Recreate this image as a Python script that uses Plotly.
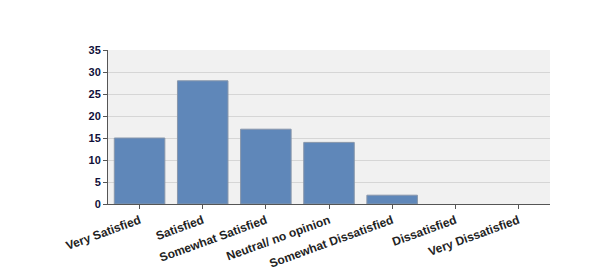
import plotly.graph_objects as go

categories = ["Very Satisfied", "Satisfied", "Somewhat Satisfied", "Neutral/ no opinion",
              "Somewhat Dissatisfied", "Dissatisfied", "Very Dissatisfied"]
counts = [15, 28, 17, 14, 2, 0, 0]
y_ticks = [0, 5, 10, 15, 20, 25, 30, 35]

fig = go.Figure()
fig.add_trace(go.Bar(
    x=categories, y=counts,
    marker=dict(color="#5f87b9",
                line=dict(color="#8796ab", width=[1 if v > 0 else 0 for v in counts])),
    hoverinfo="x+y",
))

font_main = "Liberation Sans, Arial, sans-serif"
fig.update_layout(
    width=600, height=270,
    margin=dict(l=108, r=50, t=50, b=66),
    paper_bgcolor="white",
    plot_bgcolor="#f1f1f1",
    bargap=0.2,
    showlegend=False,
    font=dict(family=font_main, size=11, color="#222"),
)
fig.update_xaxes(
    type="category",
    automargin=False,
    tickangle=-20,
    tickfont=dict(family=font_main, size=12, color="#222", weight="bold"),
    showline=True, linecolor="#555", linewidth=1,
    ticks="outside", ticklen=4, tickcolor="#555",
    showgrid=False,
)
fig.update_yaxes(
    automargin=False,
    range=[0, 35],
    tickvals=y_ticks,
    tickfont=dict(family=font_main, size=11, color="#10103a", weight="bold"),
    showline=True, linecolor="#555", linewidth=1,
    ticks="outside", ticklen=4, tickcolor="#555",
    gridcolor="#d6d6d6", gridwidth=1,
    zeroline=False,
)
fig.write_html("out.html")
